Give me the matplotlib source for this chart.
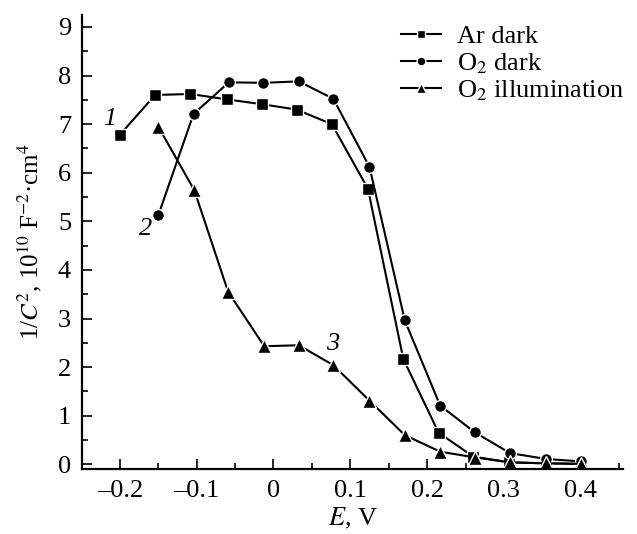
import matplotlib
matplotlib.use("Agg")
import matplotlib.pyplot as plt
from matplotlib.ticker import MultipleLocator

plt.rcParams['font.family'] = ['Liberation Serif', 'DejaVu Serif']
plt.rcParams['mathtext.fontset'] = 'stix'

# potential, V
e_ar = [-0.200, -0.154, -0.108, -0.061, -0.015, 0.030, 0.076, 0.123, 0.169, 0.215, 0.260, 0.307, 0.355, 0.400]
e_o2 = [-0.150, -0.104, -0.058, -0.013, 0.033, 0.078, 0.125, 0.171, 0.217, 0.262, 0.308, 0.355, 0.400]
e_il = [-0.150, -0.103, -0.059, -0.012, 0.033, 0.078, 0.125, 0.171, 0.217, 0.263, 0.308, 0.355, 0.400]

# 1/C^2, 10^10 F^-2 cm^4
ar_dark = [6.78, 7.60, 7.62, 7.51, 7.41, 7.30, 7.00, 5.67, 2.17, 0.65, 0.16, 0.04, 0.02, 0.01]
o2_dark = [5.12, 7.21, 7.86, 7.85, 7.88, 7.52, 6.12, 2.96, 1.21, 0.66, 0.23, 0.11, 0.06]
o2_illum = [6.95, 5.64, 3.55, 2.43, 2.45, 2.04, 1.31, 0.60, 0.26, 0.14, 0.04, 0.02, 0.01]

fig = plt.figure(figsize=(6.37, 5.34), dpi=100)
ax = fig.add_axes([0.129, 0.1223, 0.849, 0.85])

style = dict(color='black', lw=1.5, mec='white', mew=1.0)
ax.plot(e_ar, ar_dark, marker='s', ms=8, label='Ar dark', **style)
ax.plot(e_o2, o2_dark, marker='o', ms=8.5, label='O$_2$ dark', **style)
ax.plot(e_il, o2_illum, marker='^', ms=10, label='O$_2$ illumination', **style)

# curve numbers
ax.text(-0.205, 7.1, '1', fontsize=19, style='italic', ha='right', va='center')
ax.text(-0.158, 4.85, '2', fontsize=19, style='italic', ha='right', va='center')
ax.text(0.077, 2.48, '3', fontsize=19, style='italic', ha='center', va='center')

ax.set_xlim(-0.249, 0.455)
ax.set_ylim(-0.09, 9.25)
ax.xaxis.set_major_locator(MultipleLocator(0.1))
ax.xaxis.set_minor_locator(MultipleLocator(0.05))
ax.yaxis.set_major_locator(MultipleLocator(1))
ax.yaxis.set_minor_locator(MultipleLocator(0.5))
ax.set_xticks([-0.2, -0.1, 0, 0.1, 0.2, 0.3, 0.4])
ax.set_xticklabels(['\u20130.2', '\u20130.1', '0', '0.1', '0.2', '0.3', '0.4'])

ax.spines['top'].set_visible(False)
ax.spines['right'].set_visible(False)
ax.spines['left'].set_linewidth(1.6)
ax.spines['bottom'].set_linewidth(1.6)
ax.tick_params(which='both', direction='in', width=1.2, labelsize=19)
ax.tick_params(which='major', length=7, pad=8)
ax.tick_params(which='minor', length=4)

ax.set_xlabel('$E$, V', fontsize=19, labelpad=3)
ax.set_ylabel('1/$C^2$, 10$^{10}$ F$^{-2}$\u00b7cm$^4$', fontsize=18, labelpad=10)

ax.legend(loc='upper right', bbox_to_anchor=(1.045, 1.03), frameon=False, fontsize=19,
          markerscale=0.75, handlelength=1.5, handletextpad=0.6, labelspacing=0.1)

fig.savefig('out.png', dpi=100)
